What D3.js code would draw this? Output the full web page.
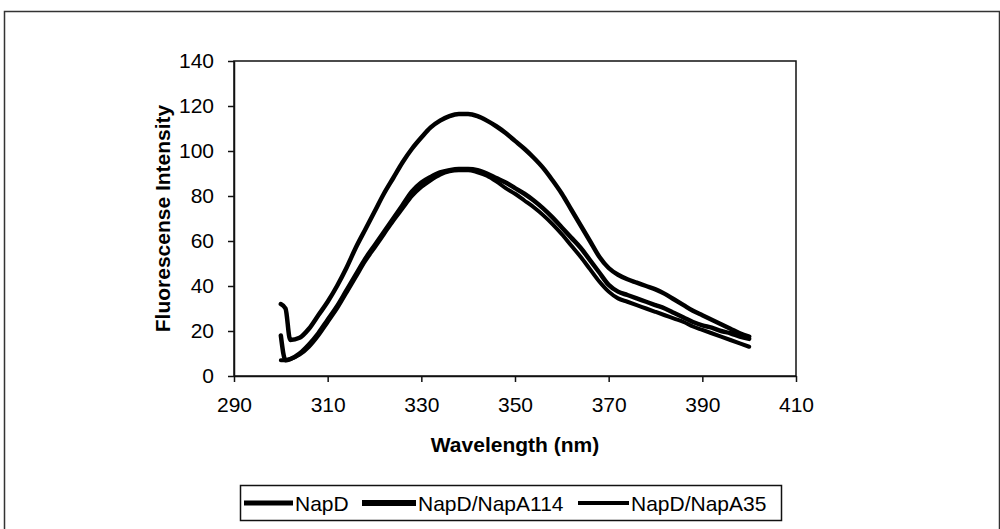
<!DOCTYPE html>
<html>
<head>
<meta charset="utf-8">
<script src="https://cdn.jsdelivr.net/npm/d3@7"></script>
<style>
  body { margin: 0; background: #fff; }
</style>
</head>
<body>
<svg id="chart"></svg>
<script>
// Wavelengths (nm) and intensities
const wavelengths = [300, 301, 302, 304, 306, 308, 310, 312, 314, 316, 318, 320, 322, 324, 326, 328, 330,
    332, 334, 336, 338, 340, 342, 344, 346, 348, 350, 352, 354, 356, 358, 360, 362, 364, 366, 368, 370,
    372, 374, 376, 378, 380, 382, 384, 386, 388, 390, 392, 394, 396, 398, 400];

const napD = [32, 30, 16, 17, 21, 27, 33, 40, 48, 57, 65, 73, 81, 88, 95, 101, 106,
    110.5, 113.5, 115.5, 116.5, 116.5, 115.5, 113.5, 111, 108, 104.5, 101, 97, 92.5, 87, 81, 74, 67, 60, 53, 48,
    45, 43, 41.5, 40, 38.5, 36.5, 34, 31.5, 29, 27, 25, 23, 21, 19, 17.5];

const napD114 = [18, 7, 7.5, 10, 14, 19, 25, 31, 38, 45, 52, 58, 64, 70, 76, 82, 86,
    88.5, 90.5, 91.5, 92, 92, 91.5, 90, 88, 86, 83.5, 81, 78, 74.5, 70.5, 66, 61.5, 57, 51.5, 46, 40.5,
    37.5, 36, 34.5, 33, 31.5, 30, 28, 26, 24, 22.5, 21.5, 20, 19, 17.5, 16.5];

const napD35 = [7, 7, 7.5, 9.5, 13, 18, 24, 30, 37, 44, 51, 57, 63, 69, 74.5, 80, 84,
    87, 89.5, 91, 91.5, 91.5, 90.5, 89, 86.5, 83.5, 81, 78, 75, 71.5, 67.5, 63, 58, 53, 47.5, 42, 37.5,
    34.5, 33, 31.5, 30, 28.5, 27, 25.5, 24, 22, 20.5, 19, 17.5, 16, 14.5, 13];

const seriesNames = ["NapD", "NapD/NapA114", "NapD/NapA35"];
const xTicks = [290, 310, 330, 350, 370, 390, 410];
const yTicks = [0, 20, 40, 60, 80, 100, 120, 140];

const width = 1000;
const height = 529;
const margin = { top: 61, right: 204, bottom: 153, left: 234 };
const innerWidth = width - margin.left - margin.right;
const innerHeight = height - margin.top - margin.bottom;

const svg = d3.select("#chart")
    .attr("width", width)
    .attr("height", height)
    .attr("font-family", "Liberation Sans, Arial, sans-serif");

// Outer frame (bottom edge lies below the picture)
svg.append("path")
    .attr("d", `M4.5,${height} V11.5 H${width - 0.5} V${height}`)
    .attr("fill", "none")
    .attr("stroke", "#333")
    .attr("stroke-width", 1.5);

const plot = svg.append("g")
    .attr("transform", `translate(${margin.left},${margin.top})`);

const x = d3.scaleLinear().domain([290, 410]).range([0, innerWidth]);
const y = d3.scaleLinear().domain([0, 140]).range([innerHeight, 0]);

// Plot box
plot.append("rect")
    .attr("width", innerWidth)
    .attr("height", innerHeight)
    .attr("fill", "none")
    .attr("stroke", "#111")
    .attr("stroke-width", 1.5);

const xAxis = plot.append("g")
    .attr("transform", `translate(0,${innerHeight})`)
    .call(d3.axisBottom(x).tickValues(xTicks).tickSize(6).tickSizeOuter(0).tickPadding(15));

const yAxis = plot.append("g")
    .call(d3.axisLeft(y).tickValues(yTicks).tickSize(6).tickSizeOuter(0).tickPadding(14));

[xAxis, yAxis].forEach(g => {
    g.attr("font-family", null).attr("font-size", null);
    g.select(".domain").attr("stroke", "#111").attr("stroke-width", 1.5);
    g.selectAll(".tick line").attr("stroke", "#111").attr("stroke-width", 1.5);
    g.selectAll(".tick text")
        .attr("fill", "#000")
        .attr("font-size", 21);
});

// Axis labels
svg.append("text")
    .attr("text-anchor", "middle")
    .attr("x", margin.left + innerWidth / 2)
    .attr("y", 452)
    .attr("font-size", 21)
    .attr("font-weight", "bold")
    .text("Wavelength (nm)");

svg.append("text")
    .attr("text-anchor", "middle")
    .attr("transform", `translate(170, ${margin.top + innerHeight / 2}) rotate(-90)`)
    .attr("font-size", 21)
    .attr("font-weight", "bold")
    .text("Fluorescense Intensity");

// Lines
const series = [
    { name: seriesNames[0], values: napD, width: 4.5 },
    { name: seriesNames[1], values: napD114, width: 4.5 },
    { name: seriesNames[2], values: napD35, width: 4 }
];

const line = d3.line()
    .x((d, i) => x(wavelengths[i]))
    .y(d => y(d))
    .curve(d3.curveMonotoneX);

plot.selectAll(".series")
    .data(series)
    .enter()
    .append("path")
    .attr("class", "series")
    .attr("fill", "none")
    .attr("stroke", "#000")
    .attr("stroke-width", d => d.width)
    .attr("stroke-linejoin", "round")
    .attr("stroke-linecap", "round")
    .attr("d", d => line(d.values));

// Legend
const legend = svg.append("g");
legend.append("rect")
    .attr("x", 240.5)
    .attr("y", 485.5)
    .attr("width", 541)
    .attr("height", 35)
    .attr("fill", "#fff")
    .attr("stroke", "#111")
    .attr("stroke-width", 1.5);

const legendItems = [
    { name: seriesNames[0], x: 244, w: 49, sw: 5 },
    { name: seriesNames[1], x: 362, w: 54, sw: 6 },
    { name: seriesNames[2], x: 578, w: 51, sw: 4 }
];

legendItems.forEach(item => {
    legend.append("line")
        .attr("x1", item.x)
        .attr("x2", item.x + item.w)
        .attr("y1", 503)
        .attr("y2", 503)
        .attr("stroke", "#000")
        .attr("stroke-width", item.sw);
    legend.append("text")
        .attr("x", item.x + item.w + 2)
        .attr("y", 511)
        .attr("font-size", 21)
        .text(item.name);
});
</script>
</body>
</html>
